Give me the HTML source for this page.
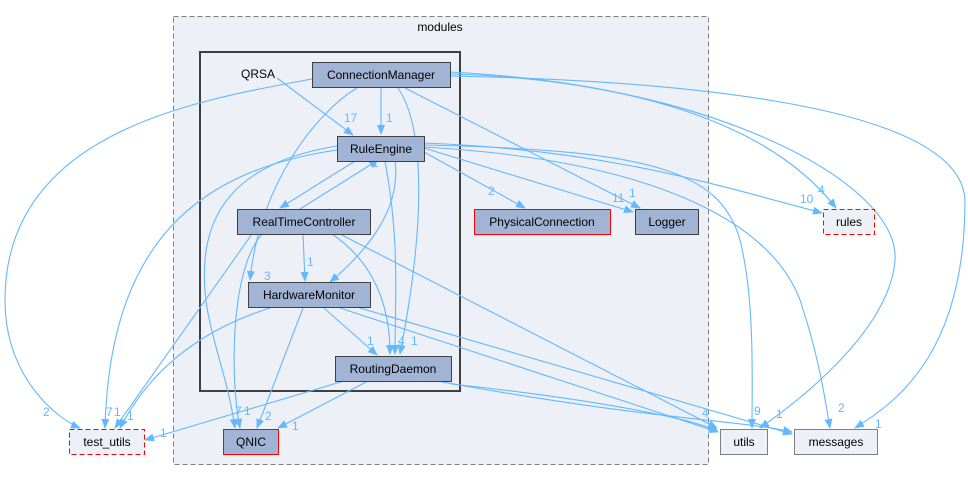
<!DOCTYPE html>
<html><head><meta charset="utf-8"><style>
html,body{margin:0;padding:0;background:#fff;}
svg{display:block;font-family:"Liberation Sans",Arial,sans-serif;}
.e{fill:none;stroke:#63b8ff;stroke-width:1.1}
.l{fill:#63b8ff;font-size:12px}
.n{font-size:12px;fill:#000;text-anchor:middle;stroke:none}
</style></head><body>
<svg width="968" height="481" viewBox="0 0 968 481" xmlns="http://www.w3.org/2000/svg">
<defs><marker id="a" markerWidth="10" markerHeight="8" refX="9" refY="4" orient="auto" markerUnits="userSpaceOnUse"><path d="M0,0 L10,4 L0,8 z" fill="#63b8ff"/></marker></defs>
<rect x="173.5" y="16.5" width="535" height="448" fill="#edf0f7" stroke="#7f7f7f" stroke-dasharray="5,3"/>
<text x="440" y="31" class="n">modules</text>
<rect x="200" y="52" width="260" height="339" fill="none" stroke="#404040" stroke-width="2"/>
<text x="258" y="78" class="n">QRSA</text>
<g marker-end="url(#a)">
<path class="e" d="M277,78 L353,135"/>
<path class="e" d="M381,88 L381,134"/>
<path class="e" d="M312,79 C200,100 5,130 5,300 C5,380 60,420 80,428"/>
<path class="e" d="M357,88 C320,110 260,180 250,280"/>
<path class="e" d="M398,88 C420,120 430,200 400,354"/>
<path class="e" d="M405,88 L640,208"/>
<path class="e" d="M450,72 C600,80 760,110 836,208"/>
<path class="e" d="M450,74 C700,80 900,180 895,260 C890,330 800,400 760,428"/>
<path class="e" d="M450,76 C650,80 960,100 965,200 C965,350 900,400 855,428"/>
<path class="e" d="M355,161 L280,208"/>
<path class="e" d="M300,209 L378,160"/>
<path class="e" d="M337,150 C200,170 110,240 105,428"/>
<path class="e" d="M337,146 C250,160 210,200 205,260 C200,320 225,360 235,428"/>
<path class="e" d="M395,161 C400,200 380,240 330,282"/>
<path class="e" d="M385,161 C400,240 395,300 395,354"/>
<path class="e" d="M424,152 L525,208"/>
<path class="e" d="M424,148 L633,212"/>
<path class="e" d="M424,143 C600,150 700,180 822,213"/>
<path class="e" d="M424,145 C650,150 720,170 740,240 C755,300 752,380 752,428"/>
<path class="e" d="M424,147 C650,160 770,220 800,300 C820,360 825,400 830,428"/>
<path class="e" d="M252,234 L115,428"/>
<path class="e" d="M262,234 C230,270 230,380 240,428"/>
<path class="e" d="M303,234 L305,281"/>
<path class="e" d="M332,234 C370,260 390,300 390,354"/>
<path class="e" d="M340,234 L717,428"/>
<path class="e" d="M270,308 C200,330 150,370 120,428"/>
<path class="e" d="M303,308 L257,428"/>
<path class="e" d="M324,308 L377,355"/>
<path class="e" d="M340,308 L718,432"/>
<path class="e" d="M360,308 L792,434"/>
<path class="e" d="M344,381 L145,440"/>
<path class="e" d="M368,381 L278,428"/>
<path class="e" d="M451,384 C600,400 700,420 718,432"/>
<path class="e" d="M437,381 C650,420 740,420 792,432"/>
</g>
<g class="l">
<text x="344" y="122">17</text><text x="386" y="122">1</text><text x="372" y="167">1</text>
<text x="325" y="217">4</text><text x="264" y="280">3</text><text x="307" y="266">1</text>
<text x="351" y="293">6</text><text x="367" y="345">1</text><text x="398" y="345">4</text><text x="411" y="345">1</text>
<text x="488" y="195">2</text><text x="612" y="202">11</text><text x="629" y="197">1</text>
<text x="800" y="203">10</text><text x="818" y="194">4</text>
<text x="43" y="416">2</text><text x="106" y="416">7</text><text x="114" y="416">1</text><text x="127" y="420">1</text>
<text x="160" y="437">1</text><text x="235" y="415">7</text><text x="244" y="415">1</text><text x="265" y="420">2</text><text x="292" y="430">1</text>
<text x="702" y="417">4</text><text x="754" y="415">9</text><text x="776" y="418">1</text><text x="838" y="412">2</text><text x="875" y="428">1</text>
</g>
<g stroke="#404040">
<rect x="312.5" y="62.5" width="138" height="25" fill="#a2b4d6"/>
<rect x="337.5" y="136.5" width="87" height="25" fill="#a2b4d6"/>
<rect x="237.5" y="209.5" width="133" height="25" fill="#a2b4d6"/>
<rect x="248.5" y="282.5" width="122" height="25" fill="#a2b4d6"/>
<rect x="335.5" y="356.5" width="116" height="25" fill="#a2b4d6"/>
<rect x="635.5" y="209.5" width="63" height="25" fill="#a2b4d6"/>
</g>
<text x="381" y="79" class="n">ConnectionManager</text>
<text x="381" y="153" class="n">RuleEngine</text>
<text x="304" y="226" class="n">RealTimeController</text>
<text x="309" y="299" class="n">HardwareMonitor</text>
<text x="393" y="373" class="n">RoutingDaemon</text>
<text x="667" y="226" class="n">Logger</text>
<rect x="474.5" y="209.5" width="136" height="25" fill="#a2b4d6" stroke="#ff0000"/><text x="542" y="226" class="n">PhysicalConnection</text>
<rect x="223.5" y="429.5" width="55" height="25" fill="#a2b4d6" stroke="#ff0000"/><text x="251" y="446" class="n">QNIC</text>
<rect x="823.5" y="209.5" width="51" height="25" fill="#edf0f7" stroke="#ff0000" stroke-dasharray="5,3"/><text x="849" y="226" class="n">rules</text>
<rect x="69.5" y="429.5" width="75" height="25" fill="#edf0f7" stroke="#ff0000" stroke-dasharray="5,3"/><text x="107" y="446" class="n">test_utils</text>
<rect x="720.5" y="429.5" width="47" height="25" fill="#edf0f7" stroke="#7f7f7f"/><text x="744" y="446" class="n">utils</text>
<rect x="794.5" y="429.5" width="83" height="25" fill="#edf0f7" stroke="#7f7f7f"/><text x="836" y="446" class="n">messages</text>
</svg>
</body></html>
